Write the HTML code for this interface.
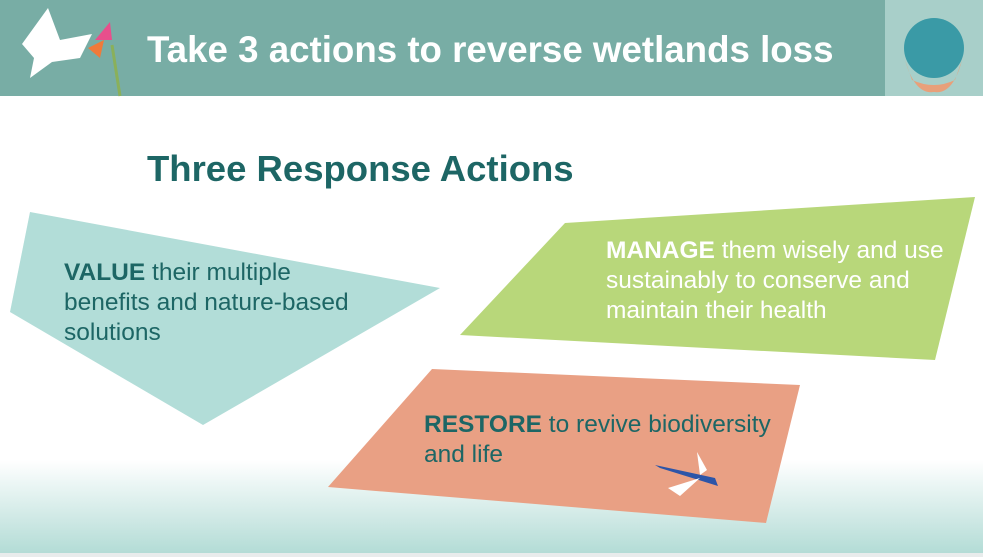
<!DOCTYPE html>
<html><head><style>
body{margin:0;width:983px;height:557px;position:relative;overflow:hidden;font-family:"Liberation Sans",sans-serif;background:#fff}
.bg{position:absolute;left:0;top:460px;width:983px;height:93px;background:linear-gradient(#fff,#b3dcd6)}
.strip{position:absolute;left:0;top:553px;width:983px;height:4px;background:#e8ecec}
.hdr{position:absolute;left:0;top:0;width:983px;height:96px;background:#78ada5}
.ht{position:absolute;left:147px;top:29px;color:#fff;font-weight:bold;font-size:36.7px;white-space:nowrap}
.t{position:absolute;color:#1d6665;font-size:24.5px;line-height:30px;white-space:nowrap}
.t b{font-weight:bold}
</style></head><body>
<div class="bg"></div><div class="strip"></div>
<div class="hdr"></div>
<div class="ht">Take 3 actions to reverse wetlands loss</div>
<svg width="983" height="557" style="position:absolute;left:0;top:0">
<polygon points="22,44 48,8 60,40 92,34 80,58 52,62 30,78 34,58" fill="#fff"/>
<polygon points="95,40 110,22 112,40" fill="#e84f8c"/>
<polygon points="88,48 104,40 100,58" fill="#f07a3a"/>
<line x1="112" y1="45" x2="120" y2="96" stroke="#8ab05a" stroke-width="3"/>
<rect x="885" y="0" width="98" height="96" fill="#a8cfc9"/>
<circle cx="934" cy="48" r="30" fill="#3a9aa6"/>
<path d="M905 60 Q915 95 934 92 Q953 95 962 60 L955 80 Q934 90 912 80Z" fill="#e8a07a"/>
<polygon points="30,212 440,288 203,425 10,312" fill="#b2ddd8"/>
<polygon points="565,223 975,197 935,360 460,335" fill="#b8d77a"/>
<polygon points="432,369 800,385 766,523 328,487" fill="#e9a084"/>
<polygon points="655,465 715,478 718,486 660,468" fill="#2d55a8"/>
<polygon points="697,452 707,470 700,475" fill="#fff"/>
<polygon points="668,488 700,478 680,496" fill="#fff"/>
</svg>
<div style="position:absolute;left:147px;top:148px;font-size:36.5px;font-weight:bold;color:#1d6665;white-space:nowrap">Three Response Actions</div>
<div class="t" style="left:64px;top:258px"><b>VALUE</b> their multiple<br>benefits and nature-based<br>solutions</div>
<div class="t" style="left:606px;top:236px;color:#fff"><b>MANAGE</b> them wisely and use<br>sustainably to conserve and<br>maintain their health</div>
<div class="t" style="left:424px;top:410px"><b>RESTORE</b> to revive biodiversity<br>and life</div>
</body></html>
